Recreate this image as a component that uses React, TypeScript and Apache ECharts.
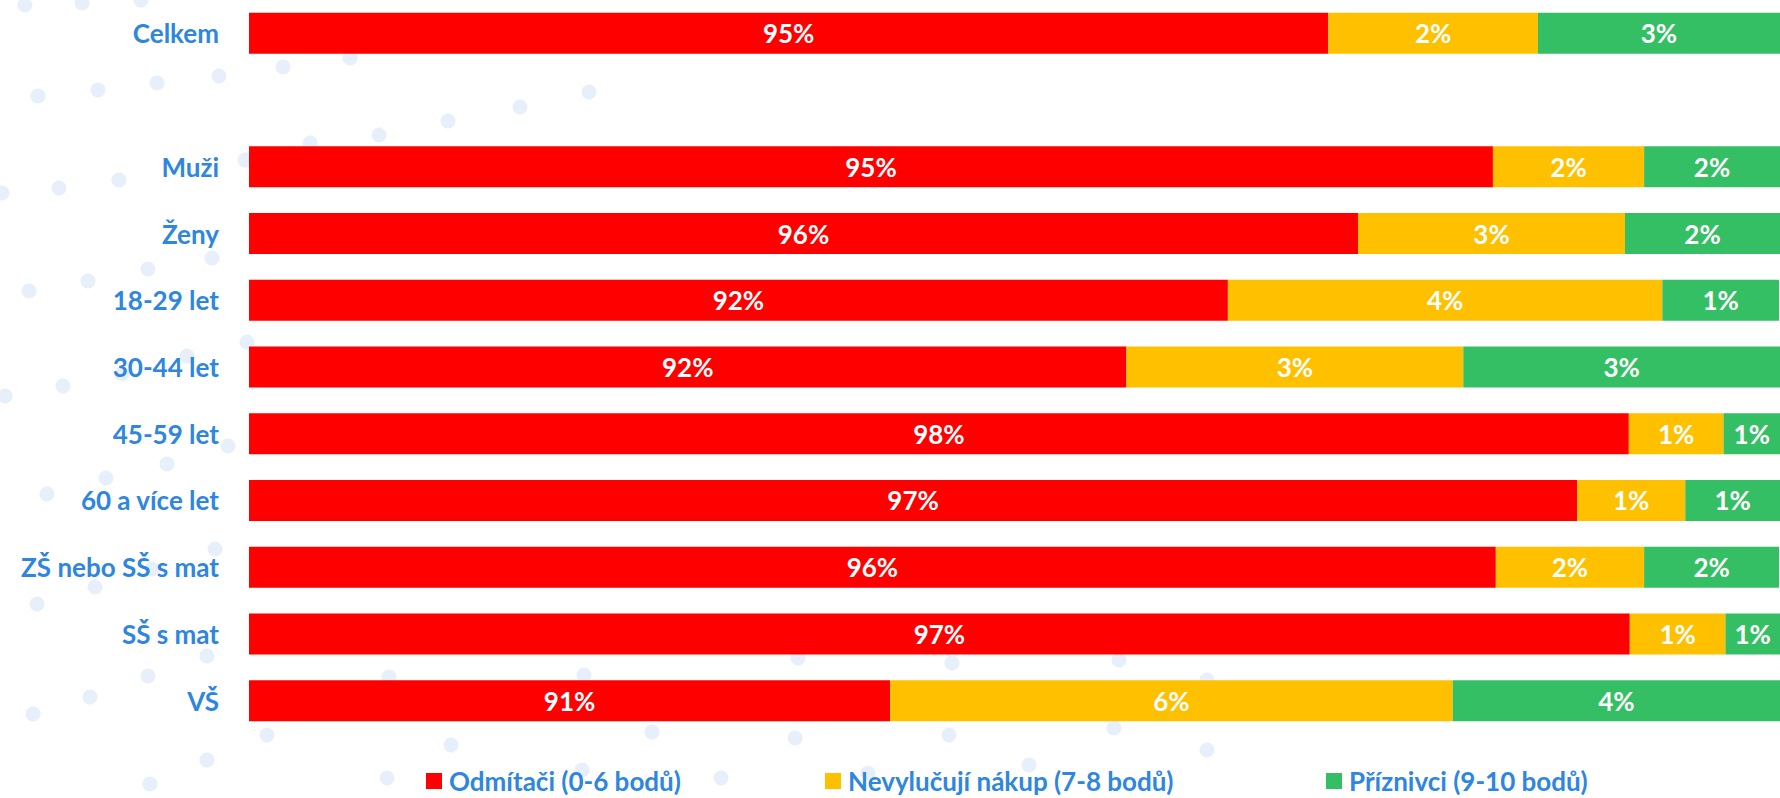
import React, { useEffect, useRef } from "react";
import * as echarts from "echarts";

// Categories (an empty slot separates the total from the groups)
const categories = [
  "Celkem",
  "",
  "Muži",
  "Ženy",
  "18-29 let",
  "30-44 let",
  "45-59 let",
  "60 a více let",
  "ZŠ nebo SŠ s mat",
  "SŠ s mat",
  "VŠ",
];

const seriesNames = [
  "Odmítači (0-6 bodů)",
  "Nevylučují nákup (7-8 bodů)",
  "Příznivci (9-10 bodů)",
];

// Segment lengths (axis shown from 84 to 100)
const rejecters = [95.28, null, 97.0, 95.59, 94.23, 93.17, 98.42, 97.88, 97.03, 98.43, 90.7];
const undecided = [2.19, null, 1.58, 2.79, 4.54, 3.52, 0.99, 1.13, 1.55, 1.0, 5.88];
const supporters = [2.53, null, 1.42, 1.63, 1.22, 3.31, 0.59, 0.99, 1.41, 0.57, 3.42];

// Data labels as printed on the chart
const rejectersLabels = ["95%", "", "95%", "96%", "92%", "92%", "98%", "97%", "96%", "97%", "91%"];
const undecidedLabels = ["2%", "", "2%", "3%", "4%", "3%", "1%", "1%", "2%", "1%", "6%"];
const supportersLabels = ["3%", "", "2%", "2%", "1%", "3%", "1%", "1%", "2%", "1%", "4%"];

// Decorative background dots [x, y]
const dots: number[][] = [
  [25, 5], [82, 3], [141, 0], [38, 96], [98, 90], [157, 83], [219, 76], [283, 67], [350, 58],
  [589, 92], [520, 107], [448, 121], [379, 135], [310, 143], [245, 160], [2, 193], [59, 188],
  [119, 180], [148, 269], [88, 281], [29, 291], [212, 258], [247, 342], [187, 356], [122, 374],
  [63, 386], [5, 396], [167, 464], [228, 446], [106, 478], [47, 494], [215, 549], [95, 587],
  [37, 604], [152, 569], [207, 656], [148, 676], [90, 697], [33, 714], [207, 760], [150, 784],
  [389, 677], [584, 675], [798, 658], [952, 663], [1119, 660], [1207, 680], [267, 735],
  [451, 745], [652, 732], [795, 738], [949, 735], [1114, 728], [1207, 750], [387, 778],
  [582, 770], [721, 778], [868, 773], [1029, 765],
];

const colors = ["#FF0000", "#FFC000", "#35BF64"];
const blue = "#2E86DE";
const FONT = "Lato, 'Open Sans', sans-serif";

export default function App() {
  const ref = useRef<HTMLDivElement>(null);

  useEffect(() => {
    if (!ref.current) return;
    const chart = echarts.init(ref.current, undefined, { renderer: "svg" });

    const values = [rejecters, undecided, supporters];
    const labels = [rejectersLabels, undecidedLabels, supportersLabels];

    const series = values.map((vals, i) => ({
      name: seriesNames[i],
      type: "bar",
      stack: "total",
      barWidth: 41,
      data: vals.map((v) => (v === null ? "-" : v)),
      itemStyle: { color: colors[i] },
      label: {
        show: true,
        position: "inside",
        color: "#FFFFFF",
        fontFamily: FONT,
        fontWeight: "bold",
        fontSize: 26,
        formatter: (p: any) => labels[i][p.dataIndex],
      },
      emphasis: { disabled: true },
    }));

    const legendLefts = [426, 825, 1326];
    const legends = seriesNames.map((n, i) => ({
      data: [n],
      left: legendLefts[i],
      top: 768,
      padding: 0,
      icon: "rect",
      itemWidth: 16,
      itemHeight: 16,
      selectedMode: false,
      textStyle: {
        color: blue,
        fontFamily: FONT,
        fontWeight: "bold",
        fontSize: 26,
        lineHeight: 26,
        padding: [0, 0, 0, 2],
      },
    }));

    chart.setOption({
      animation: false,
      backgroundColor: "#FFFFFF",
      graphic: dots.map((d) => ({
        type: "circle",
        silent: true,
        z: -10,
        shape: { cx: d[0], cy: d[1], r: 7.5 },
        style: { fill: "#E7F0FA" },
      })),
      grid: { left: 249, right: 0, top: 0, height: 734 },
      xAxis: {
        type: "value",
        min: 84,
        max: 100,
        show: false,
      },
      yAxis: {
        type: "category",
        data: categories,
        inverse: true,
        axisLine: { show: false },
        axisTick: { show: false },
        axisLabel: {
          color: blue,
          fontFamily: FONT,
          fontWeight: "bold",
          fontSize: 26,
          margin: 30,
        },
      },
      legend: legends,
      series,
    });

    return () => chart.dispose();
  }, []);

  return (
    <div
      ref={ref}
      style={{ position: "fixed", left: 0, top: 0, width: 1780, height: 798 }}
    />
  );
}
